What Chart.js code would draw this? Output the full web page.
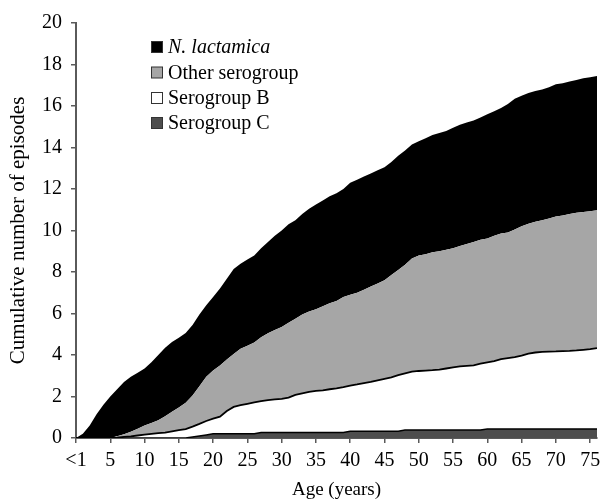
<!DOCTYPE html>
<html>
<head>
<meta charset="utf-8">
<script src="https://cdn.jsdelivr.net/npm/chart.js@4"></script>
<style>
  html, body { margin: 0; padding: 0; background: #ffffff; }
  #wrap { width: 601px; height: 502px; }
</style>
</head>
<body>
<div id="wrap"><canvas id="c" width="601" height="502"></canvas></div>
<script>
// Age in years (0 shown as "<1")
const ages = [0,1,2,3,4,5,6,7,8,9,10,11,12,13,14,15,16,17,18,19,20,21,22,23,24,25,26,27,28,29,30,31,32,33,34,35,36,37,38,39,40,41,42,43,44,45,46,47,48,49,50,51,52,53,54,55,56,57,58,59,60,61,62,63,64,65,66,67,68,69,70,71,72,73,74,75,76];

// Cumulative episodes per series (stacked from bottom)
const serogroupC = [0,0,0,0,0,0,0,0,0,0,0,0,0,0,0,0,0,0.05,0.1,0.15,0.2,0.2,0.2,0.2,0.2,0.2,0.2,0.26,0.26,0.26,0.26,0.26,0.26,0.26,0.26,0.26,0.26,0.26,0.26,0.26,0.33,0.33,0.33,0.33,0.33,0.33,0.33,0.33,0.38,0.38,0.38,0.38,0.38,0.38,0.38,0.38,0.38,0.38,0.38,0.38,0.43,0.43,0.43,0.43,0.43,0.43,0.43,0.43,0.43,0.43,0.43,0.43,0.43,0.43,0.43,0.43,0.43];

const serogroupB = [0,0,0,0,0,0,0.02,0.05,0.08,0.12,0.16,0.2,0.23,0.26,0.32,0.38,0.43,0.5,0.58,0.67,0.73,0.83,1.1,1.3,1.38,1.45,1.52,1.52,1.57,1.6,1.63,1.69,1.82,1.89,1.96,2.01,2.04,2.09,2.13,2.19,2.19,2.25,2.32,2.37,2.45,2.52,2.59,2.7,2.74,2.82,2.85,2.87,2.89,2.92,2.97,3.02,3.07,3.1,3.12,3.2,3.22,3.27,3.37,3.42,3.47,3.54,3.64,3.69,3.72,3.73,3.74,3.76,3.77,3.79,3.82,3.85,3.9];

const otherSerogroup = [0,0,0,0,0,0,0.06,0.13,0.22,0.33,0.44,0.52,0.62,0.79,0.95,1.09,1.27,1.5,1.82,2.13,2.32,2.47,2.48,2.55,2.72,2.8,2.88,3.07,3.22,3.34,3.46,3.6,3.67,3.8,3.88,3.93,4.05,4.15,4.21,4.35,4.38,4.42,4.5,4.6,4.67,4.75,4.93,5.07,5.23,5.45,5.57,5.6,5.68,5.7,5.72,5.75,5.8,5.87,5.95,5.97,5.97,6.05,6.05,6.05,6.15,6.23,6.26,6.3,6.35,6.42,6.5,6.53,6.6,6.64,6.64,6.65,6.65];

const nLactamica = [0,0.2,0.6,1.15,1.6,2.0,2.27,2.52,2.65,2.7,2.75,2.93,3.15,3.3,3.36,3.36,3.36,3.4,3.45,3.45,3.55,3.7,3.9,4.1,4.1,4.15,4.2,4.3,4.4,4.55,4.65,4.75,4.75,4.85,4.95,5.05,5.1,5.15,5.2,5.2,5.4,5.45,5.45,5.45,5.45,5.45,5.45,5.5,5.5,5.5,5.5,5.6,5.65,5.7,5.73,5.8,5.85,5.85,5.85,5.9,5.98,6.0,6.05,6.2,6.3,6.3,6.3,6.3,6.3,6.32,6.38,6.38,6.38,6.39,6.45,6.46,6.46];

const seriesLabels = ['Serogroup C', 'Serogroup B', 'Other serogroup', 'N. lactamica'];
const yTicks = [0,2,4,6,8,10,12,14,16,18,20];
const xTickStep = 5;

const FONT = "'Liberation Serif', 'Times New Roman', serif";

function pts(vals) { return ages.map((a, i) => ({ x: a, y: vals[i] })); }

const legendPlugin = {
  id: 'insideLegend',
  afterDraw(chart) {
    const ctx = chart.ctx;
    const order = [3, 2, 1, 0];
    const rowsY = [47, 72.5, 98, 123];
    ctx.save();
    order.forEach((di, k) => {
      const ds = chart.data.datasets[di];
      const y = rowsY[k];
      ctx.fillStyle = ds.backgroundColor;
      ctx.fillRect(151.5, y - 5.5, 11, 11);
      ctx.strokeStyle = '#333333';
      ctx.lineWidth = 1;
      ctx.strokeRect(151.5, y - 5.5, 11, 11);
      ctx.fillStyle = '#000000';
      ctx.textBaseline = 'middle';
      ctx.textAlign = 'left';
      ctx.font = (di === 3 ? 'italic ' : '') + '20px ' + FONT;
      ctx.fillText(ds.label, 168, y + 1);
    });
    ctx.restore();
  }
};

new Chart(document.getElementById('c'), {
  type: 'line',
  data: {
    datasets: [
      { label: seriesLabels[0], data: pts(serogroupC), backgroundColor: '#4d4d4d', borderColor: '#000000', borderWidth: 1.5, fill: 'origin' },
      { label: seriesLabels[1], data: pts(serogroupB), backgroundColor: '#ffffff', borderColor: '#000000', borderWidth: 1.8, fill: '-1' },
      { label: seriesLabels[2], data: pts(otherSerogroup), backgroundColor: '#a6a6a6', borderColor: '#a6a6a6', borderWidth: 0, fill: '-1' },
      { label: seriesLabels[3], data: pts(nLactamica), backgroundColor: '#000000', borderColor: '#000000', borderWidth: 0, fill: '-1' }
    ]
  },
  options: {
    responsive: false,
    animation: false,
    devicePixelRatio: 1,
    elements: { point: { radius: 0 }, line: { tension: 0 } },
    layout: { padding: { left: 4, right: 4, top: 23, bottom: 0 } },
    plugins: { legend: { display: false }, tooltip: { enabled: false } },
    scales: {
      x: {
        type: 'linear',
        min: 0, max: 76,
        border: { display: true, color: '#5a5a5a', width: 2 },
        grid: { display: true, drawOnChartArea: false, drawTicks: true, tickLength: 5, color: '#5a5a5a', lineWidth: 1.5 },
        ticks: {
          stepSize: xTickStep, includeBounds: false, autoSkip: false, maxRotation: 0,
          color: '#000000', padding: 6, font: { family: FONT, size: 20 },
          callback: (v) => (v === 0 ? '<1' : String(v))
        },
        title: { display: true, text: 'Age (years)', color: '#000000', font: { family: FONT, size: 19 }, padding: { top: 0, bottom: 1 } },
        afterFit: (s) => { s.height = 64; s.paddingLeft = 0; s.paddingRight = 0; }
      },
      y: {
        type: 'linear',
        stacked: true,
        min: 0, max: 20,
        border: { display: true, color: '#5a5a5a', width: 2 },
        grid: { display: true, drawOnChartArea: false, drawTicks: true, tickLength: 5, color: '#5a5a5a', lineWidth: 1.5 },
        afterBuildTicks: (s) => { s.ticks = yTicks.map(v => ({ value: v })); },
        ticks: { color: '#000000', padding: 9, font: { family: FONT, size: 20 } },
        title: { display: true, text: 'Cumulative number of episodes', color: '#000000', font: { family: FONT, size: 21 }, padding: { top: 2, bottom: 0 } },
        afterFit: (s) => { s.width = 72; s.paddingTop = 0; s.paddingBottom = 0; }
      }
    }
  },
  plugins: [legendPlugin]
});
</script>
</body>
</html>
